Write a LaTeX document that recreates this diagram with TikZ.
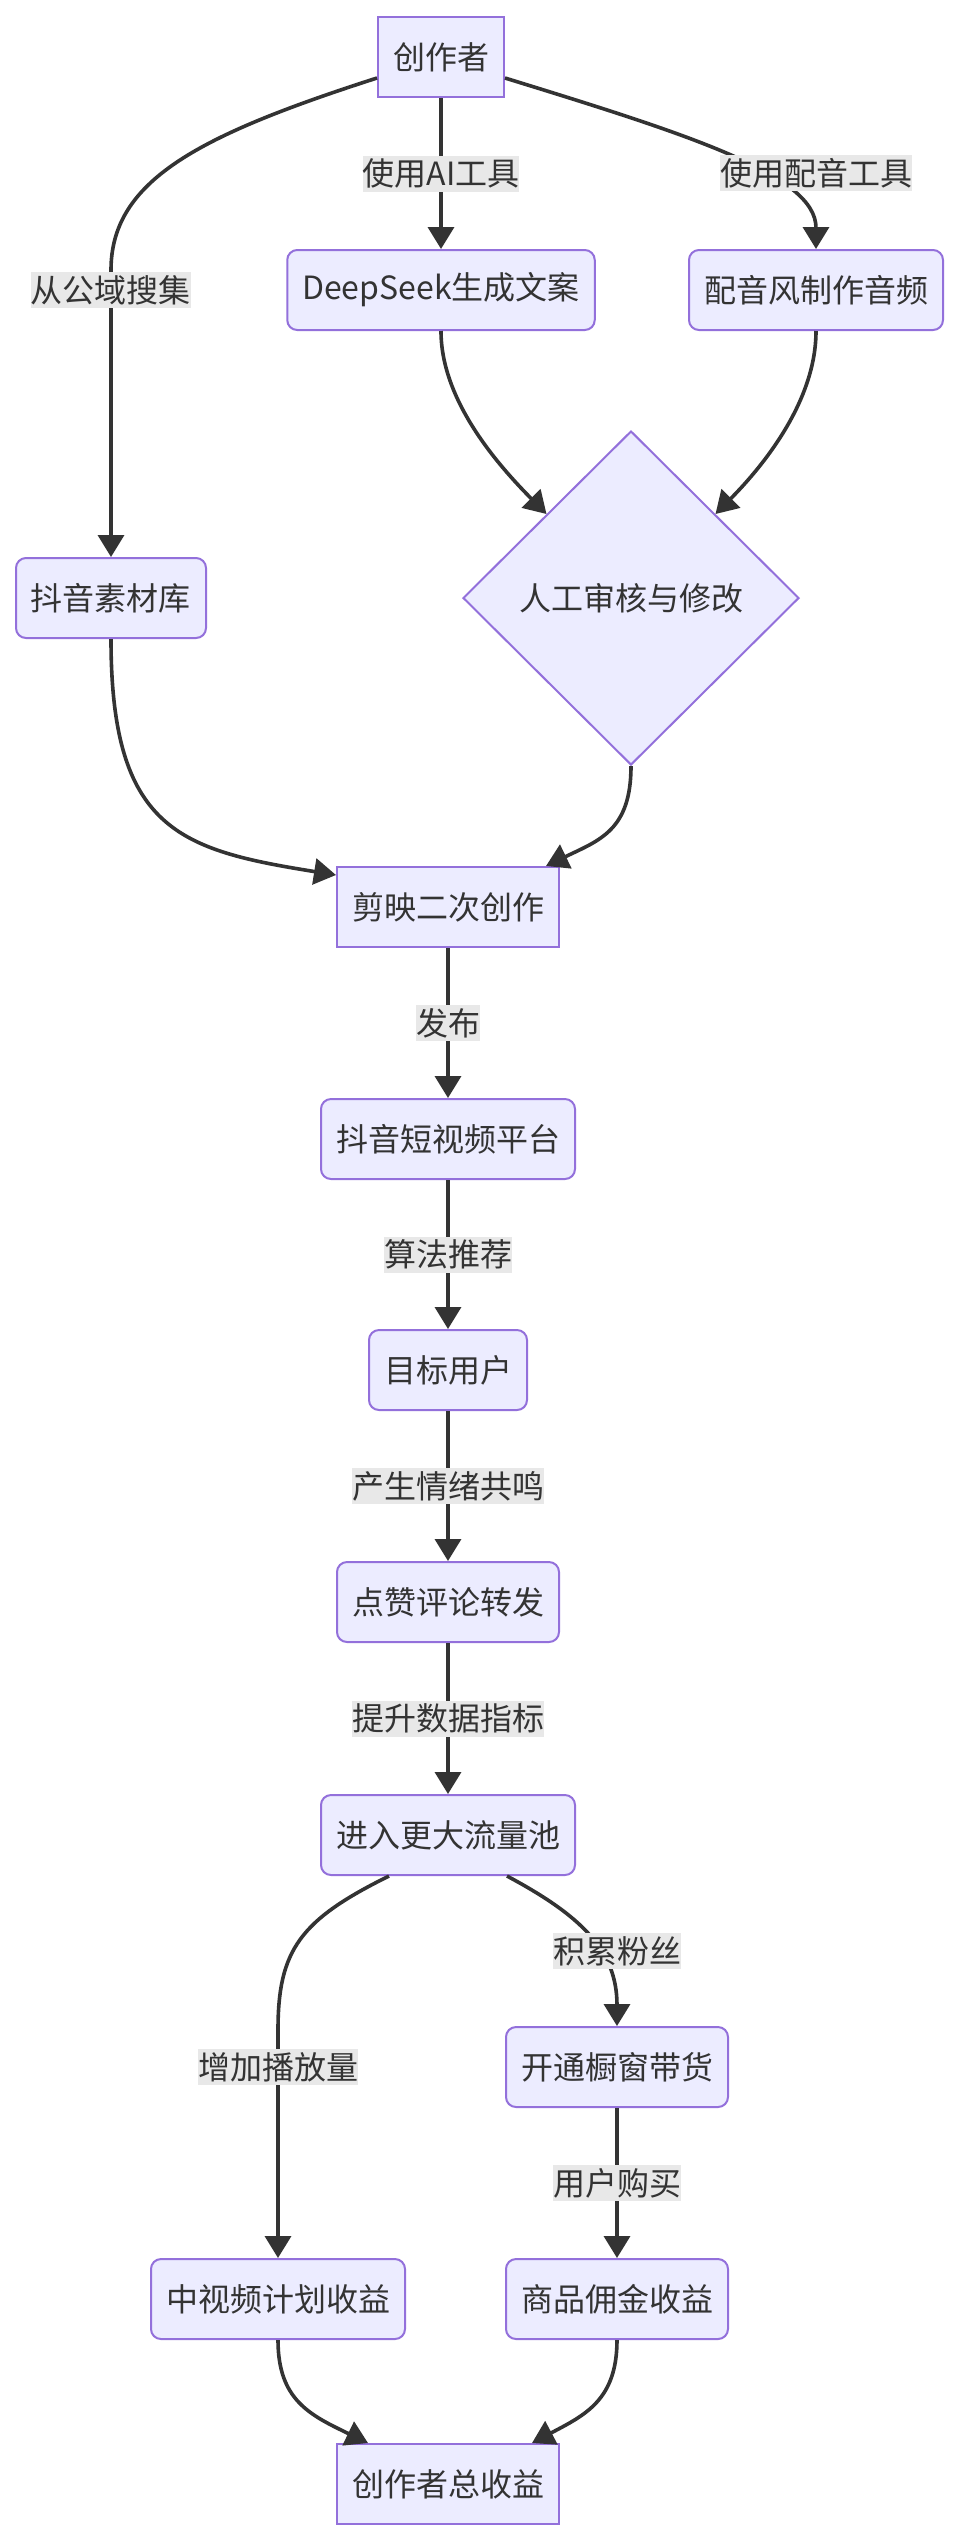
\documentclass[tikz,border=0pt]{standalone}
\usepackage{fontspec}
\setmainfont{Noto Sans CJK SC}
\usepackage{xcolor}
\usetikzlibrary{shapes.geometric, arrows.meta}

\definecolor{nodefill}{HTML}{ECECFF}
\definecolor{nodeline}{HTML}{9370DB}
\definecolor{edgeline}{HTML}{333333}
\definecolor{labelfill}{HTML}{E8E8E8}

\begin{document}
\begin{tikzpicture}[x=0.5pt, y=-0.5pt,
    box/.style={rectangle, draw=nodeline, fill=nodefill, line width=1pt, minimum height=40pt, inner xsep=7.5pt, inner ysep=0pt, text=edgeline, font=\fontsize{16pt}{19pt}\selectfont},
    roundbox/.style={box, rounded corners=5pt},
    reviewbox/.style={diamond, draw=nodeline, fill=nodefill, line width=1pt, minimum width=168pt, minimum height=167pt, inner sep=0pt, text=edgeline, font=\fontsize{16pt}{19pt}\selectfont},
    edgelabel/.style={rectangle, fill=labelfill, inner sep=0pt, minimum height=18pt, text=edgeline, font=\fontsize{16pt}{19pt}\selectfont},
    arrow/.style={-{Triangle[length=11pt, width=13pt]}, line width=1.8pt, draw=edgeline}
]

\fill[white] (0,0) rectangle (960,2540);
\useasboundingbox (0,0) rectangle (960,2540);

% Creation
\node[box] (creator) at (441,57) {创作者};
\node[roundbox] (deepseek) at (441,290) {DeepSeek生成文案};
\node[roundbox] (voice) at (816,290) {配音风制作音频};
\node[roundbox] (library) at (111,598) {抖音素材库};
\node[reviewbox] (review) at (631,598) {人工审核与修改};
\node[box] (capcut) at (448,907) {剪映二次创作};

% Distribution
\node[roundbox] (platform) at (448,1139) {抖音短视频平台};
\node[roundbox] (audience) at (448,1370) {目标用户};
\node[roundbox] (engage) at (448,1602) {点赞评论转发};
\node[roundbox] (pool) at (448,1835) {进入更大流量池};

% Revenue
\node[roundbox] (showcase) at (617,2067) {开通橱窗带货};
\node[roundbox] (midvideo) at (278,2299) {中视频计划收益};
\node[roundbox] (commission) at (617,2299) {商品佣金收益};
\node[box] (total) at (448,2484) {创作者总收益};

% Connections: creator to sources
\draw[arrow] ([yshift=-10.5pt]creator.west) .. controls (200,135) and (111,180) .. (111,270) -- (library.north);
\draw[arrow] (creator) -- node[edgelabel] {使用AI工具} (deepseek);
\draw[arrow] ([yshift=-10.5pt]creator.east) .. controls (690,135) and (816,175) .. (voice.north);
\node[edgelabel] (lblpublic) at (111,290) {从公域搜集};
\node[edgelabel] (lblvoice) at (816,173) {使用配音工具};

% Sources to review and editing
\draw[arrow] (deepseek.south) .. controls (441,400) and (497,464) .. (review.north west);
\draw[arrow] (voice.south) .. controls (816,400) and (765,464) .. (review.north east);
\draw[arrow] (library.south) .. controls (111,830) and (180,850) .. ([yshift=-4.5pt]capcut.north west);
\draw[arrow] (review.south) .. controls (631,830) and (600,840) .. ([xshift=-7pt]capcut.north east);

% Distribution chain
\draw[arrow] (capcut) -- node[edgelabel] {发布} (platform);
\draw[arrow] (platform) -- node[edgelabel] {算法推荐} (audience);
\draw[arrow] (audience) -- node[edgelabel] {产生情绪共鸣} (engage);
\draw[arrow] (engage) -- node[edgelabel] {提升数据指标} (pool);

% Revenue branches
\draw[arrow] ([xshift=-29.5pt]pool.south) .. controls (300,1920) and (278,1950) .. (278,2030) -- (midvideo.north);
\draw[arrow] ([xshift=29.5pt]pool.south) .. controls (580,1915) and (617,1950) .. (showcase.north);
\node[edgelabel] (lblplays) at (278,2067) {增加播放量};
\node[edgelabel] (lblfans) at (617,1951) {积累粉丝};
\draw[arrow] (showcase) -- node[edgelabel] {用户购买} (commission);
\draw[arrow] (midvideo.south) .. controls (278,2400) and (310,2415) .. ([xshift=16pt]total.north west);
\draw[arrow] (commission.south) .. controls (617,2400) and (585,2415) .. ([xshift=-14pt]total.north east);

\end{tikzpicture}
\end{document}
